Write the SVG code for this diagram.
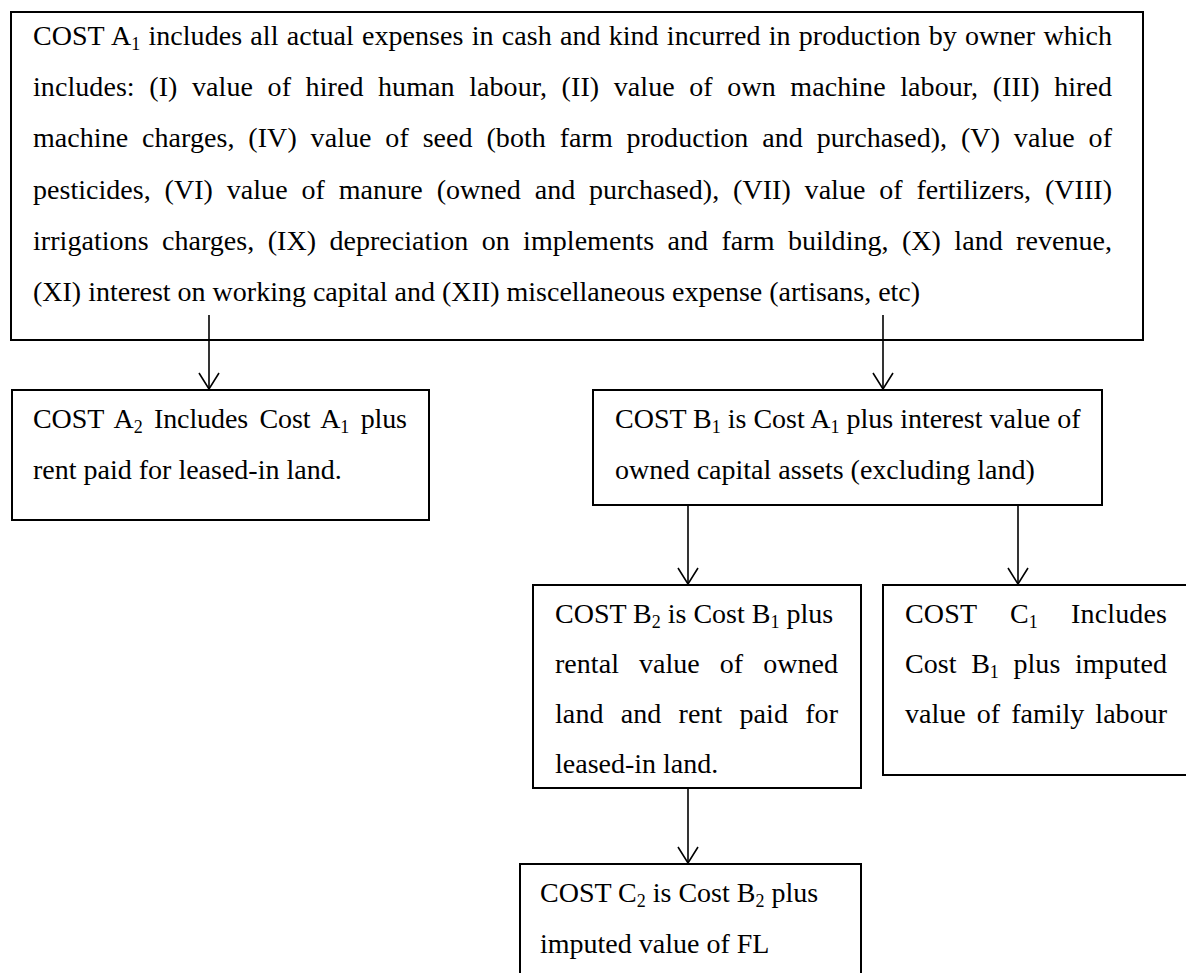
<svg xmlns="http://www.w3.org/2000/svg" width="1186" height="973" viewBox="0 0 1186 973">
<style>
.box{fill:#fff;stroke:#000;stroke-width:2}
.t{font-family:"Liberation Serif","Times New Roman",serif;font-size:28px;fill:#000}
.s{font-size:18px}
.c{stroke:#000;stroke-width:1.6;fill:none}
</style>
<defs>
<marker id="arr" viewBox="-1 -11 19 22" refX="16" refY="0" markerWidth="19" markerHeight="22" markerUnits="userSpaceOnUse" orient="auto">
<path d="M0,-10 L16,0 L0,10" fill="none" stroke="#000" stroke-width="1.6"/>
</marker>
</defs>
<rect width="1186" height="973" fill="#fff"/>
<g id="costA1">
<rect class="box" x="11" y="12" width="1132" height="328"/>
<text class="t" x="33" y="45" word-spacing="1.2" textLength="1079" lengthAdjust="spacing">COST A<tspan class="s" dy="5">1</tspan><tspan dy="-5"> includes all actual expenses in cash and kind incurred in production by owner which</tspan></text>
<text class="t" x="33" y="96" word-spacing="7.5" textLength="1079" lengthAdjust="spacing">includes: (I) value of hired human labour, (II) value of own machine labour, (III) hired</text>
<text class="t" x="33" y="147" word-spacing="6.8" textLength="1079" lengthAdjust="spacing">machine charges, (IV) value of seed (both farm production and purchased), (V) value of</text>
<text class="t" x="33" y="199" word-spacing="6.8" textLength="1079" lengthAdjust="spacing">pesticides, (VI) value of manure (owned and purchased), (VII) value of fertilizers, (VIII)</text>
<text class="t" x="33" y="250" word-spacing="6.3" textLength="1079" lengthAdjust="spacing">irrigations charges, (IX) depreciation on implements and farm building, (X) land revenue,</text>
<text class="t" x="33" y="301">(XI) interest on working capital and (XII) miscellaneous expense (artisans, etc)</text>
</g>
<g id="costA2">
<rect class="box" x="12" y="390" width="417" height="130"/>
<text class="t" x="33" y="428" word-spacing="4.5" textLength="374" lengthAdjust="spacing">COST A<tspan class="s" dy="5">2</tspan><tspan dy="-5"> Includes Cost A</tspan><tspan class="s" dy="5">1</tspan><tspan dy="-5"> plus</tspan></text>
<text class="t" x="33" y="479">rent paid for leased-in land.</text>
</g>
<g id="costB1">
<rect class="box" x="593" y="390" width="509" height="115"/>
<text class="t" x="615" y="428">COST B<tspan class="s" dy="5">1</tspan><tspan dy="-5"> is Cost A</tspan><tspan class="s" dy="5">1</tspan><tspan dy="-5"> plus interest value of</tspan></text>
<text class="t" x="615" y="479">owned capital assets (excluding land)</text>
</g>
<g id="costB2">
<rect class="box" x="533" y="585" width="328" height="203"/>
<text class="t" x="555" y="623">COST B<tspan class="s" dy="5">2</tspan><tspan dy="-5"> is Cost B</tspan><tspan class="s" dy="5">1</tspan><tspan dy="-5"> plus</tspan></text>
<text class="t" x="555" y="673" word-spacing="13" textLength="283" lengthAdjust="spacing">rental value of owned</text>
<text class="t" x="555" y="723" word-spacing="10" textLength="283" lengthAdjust="spacing">land and rent paid for</text>
<text class="t" x="555" y="773">leased-in land.</text>
</g>
<g id="costC1">
<rect class="box" x="883" y="585" width="320" height="190"/>
<text class="t" x="905" y="623" word-spacing="26" textLength="262" lengthAdjust="spacing">COST C<tspan class="s" dy="5">1</tspan><tspan dy="-5"> Includes</tspan></text>
<text class="t" x="905" y="673" word-spacing="7.5" textLength="262" lengthAdjust="spacing">Cost B<tspan class="s" dy="5">1</tspan><tspan dy="-5"> plus imputed</tspan></text>
<text class="t" x="905" y="723" word-spacing="4" textLength="262" lengthAdjust="spacing">value of family labour</text>
</g>
<g id="costC2">
<rect class="box" x="520" y="864" width="341" height="130"/>
<text class="t" x="540" y="902">COST C<tspan class="s" dy="5">2</tspan><tspan dy="-5"> is Cost B</tspan><tspan class="s" dy="5">2</tspan><tspan dy="-5"> plus</tspan></text>
<text class="t" x="540" y="953">imputed value of FL</text>
</g>
<g id="connectors">
<line class="c" x1="209" y1="315" x2="209" y2="389" marker-end="url(#arr)"/>
<line class="c" x1="883" y1="315" x2="883" y2="389" marker-end="url(#arr)"/>
<line class="c" x1="688" y1="505" x2="688" y2="584" marker-end="url(#arr)"/>
<line class="c" x1="1018" y1="505" x2="1018" y2="584" marker-end="url(#arr)"/>
<line class="c" x1="688" y1="788" x2="688" y2="863" marker-end="url(#arr)"/>
</g>
</svg>
